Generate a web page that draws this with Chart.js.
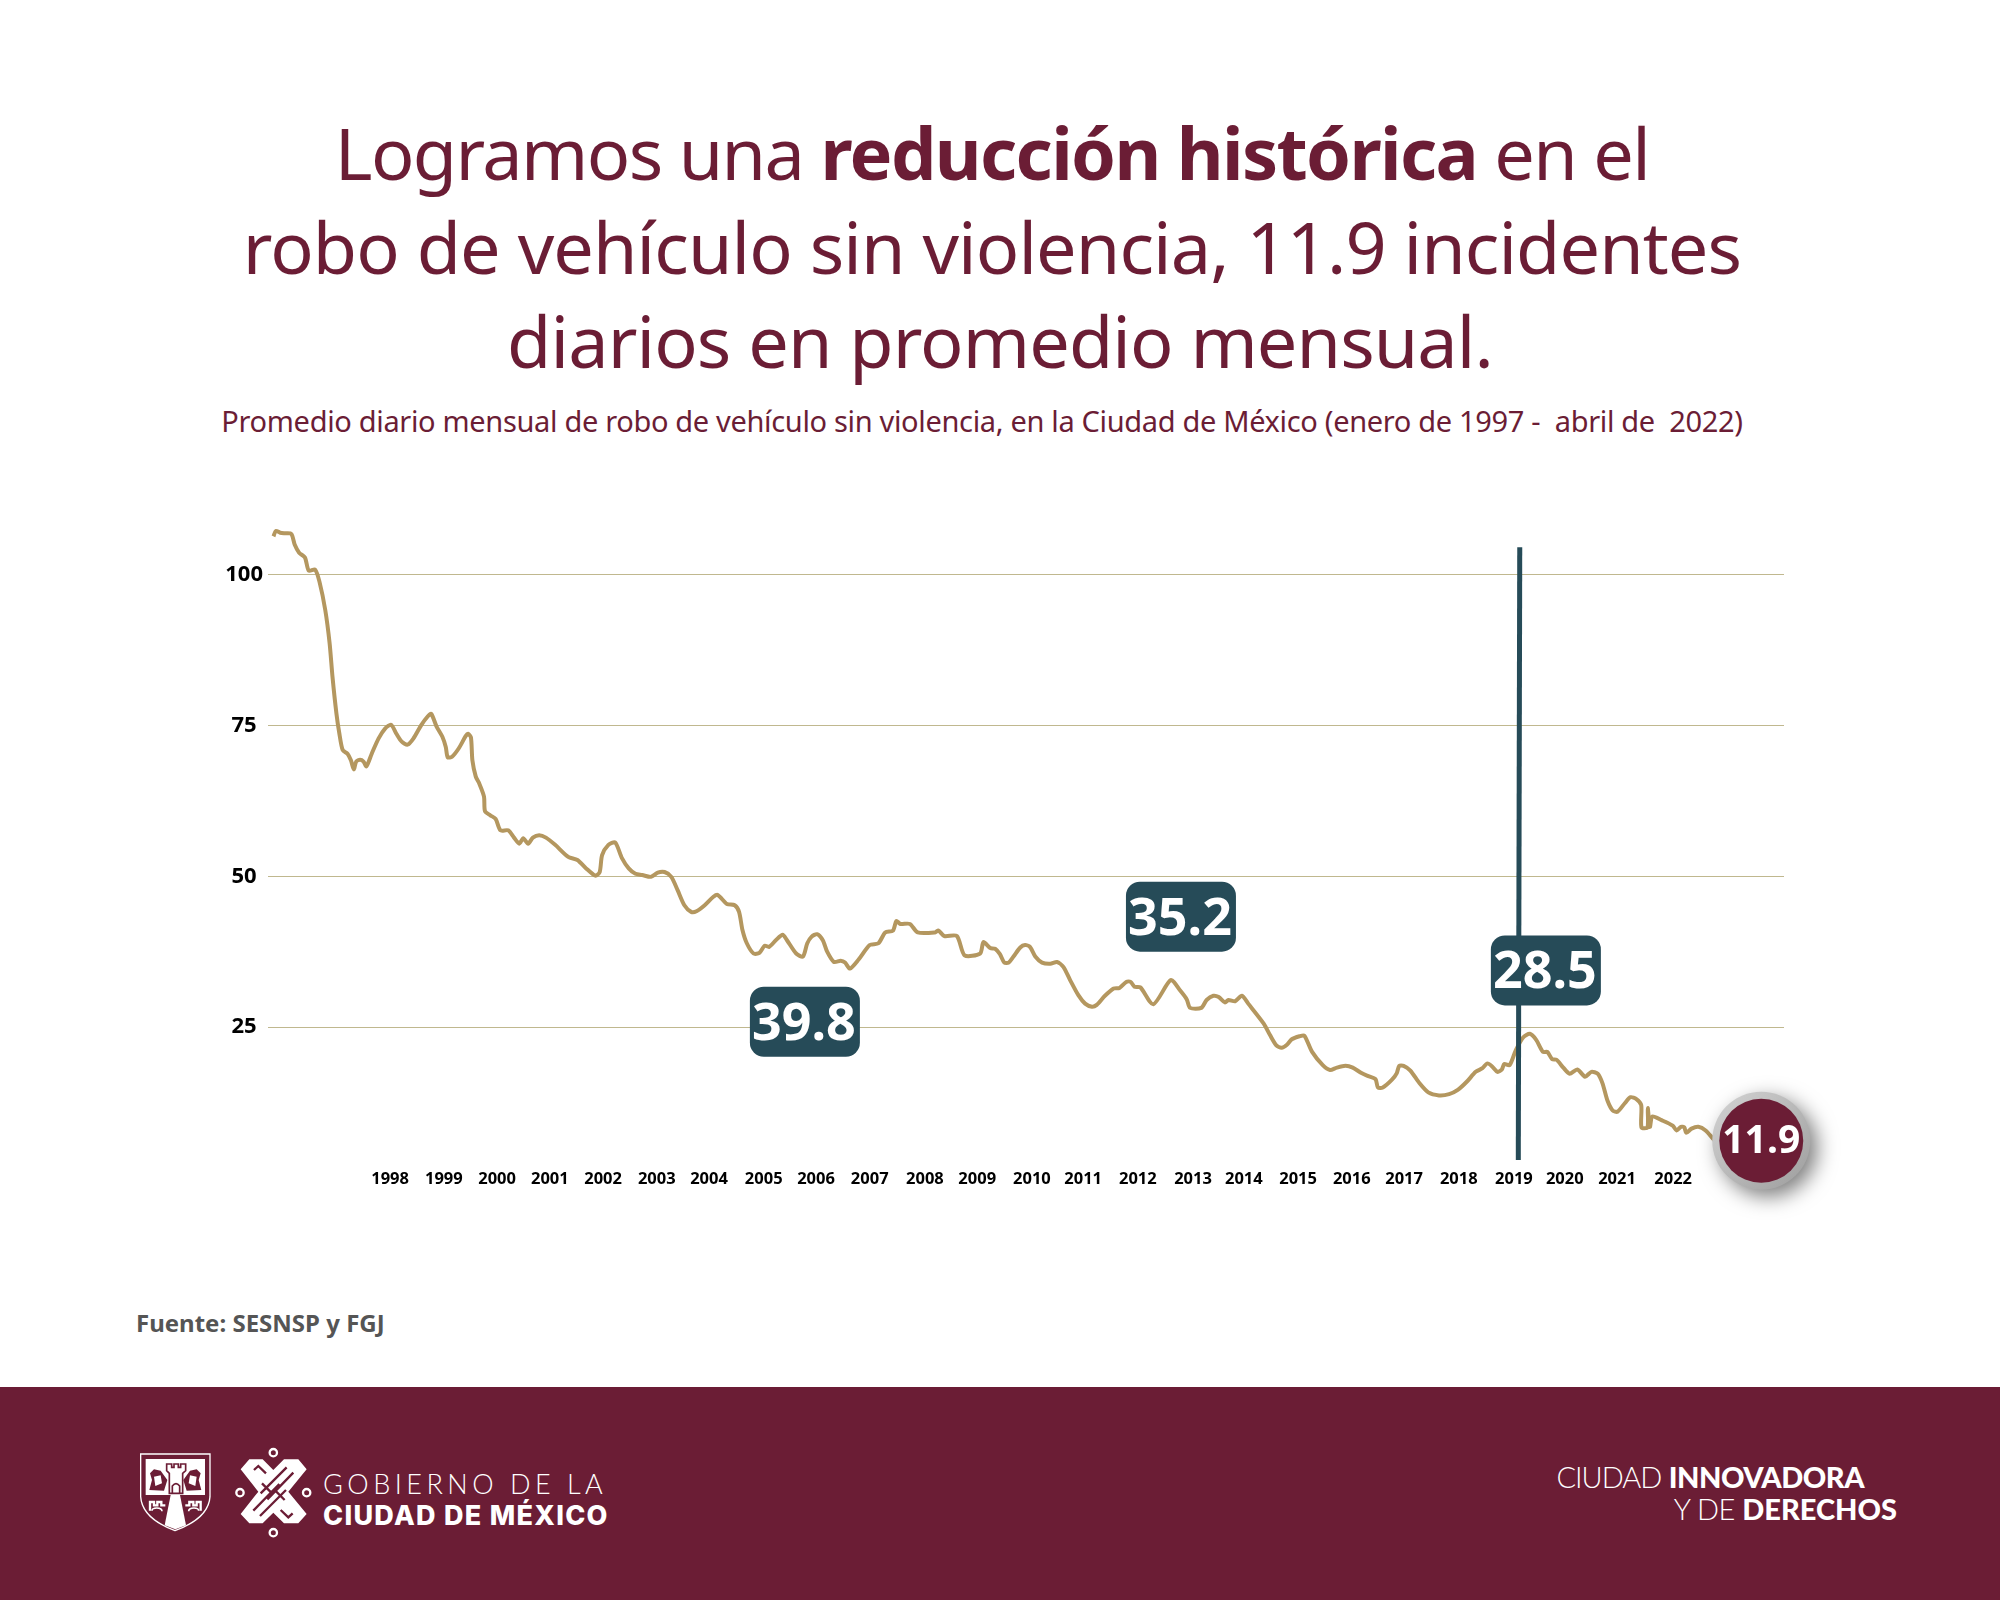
<!DOCTYPE html>
<html>
<head>
<meta charset="utf-8">
<title>Robo de vehículo sin violencia</title>
<script src="https://cdn.jsdelivr.net/npm/chart.js@4/dist/chart.umd.js"></script>
<style>
  body { margin: 0; background: #fff; width: 2000px; height: 1600px; position: relative; overflow: hidden; font-family: "Noto Sans", sans-serif; }
  canvas { position: absolute; left: 0; top: 0; }
  .line { position: absolute; left: 0; width: 2000px; text-align: center; color: #6b1d35; white-space: pre; }
  .title { font-size: 72px; font-weight: 400; line-height: 95px; height: 95px; }
  .title b { font-weight: 700; letter-spacing: -1.6px; }
  #sub { top: 400px; font-size: 29px; line-height: 42px; letter-spacing: -0.33px; left: -18px; }
  #fuente { position: absolute; left: 136px; top: 1306px; font-size: 24px; font-weight: 700; color: #555; }
  #band { position: absolute; left: 0; top: 1387px; width: 2000px; height: 213px; background: #6b1d35; }
  .foot { position: absolute; color: #fff; white-space: nowrap; }
</style>
</head>
<body>
<div id="band"></div>
<div class="line title" style="top:105px;left:-8px;letter-spacing:-1.6px">Logramos una <b>reducción histórica</b> en el</div>
<div class="line title" style="top:199px;left:-8px;letter-spacing:-0.9px">robo de vehículo sin violencia, 11.9 incidentes</div>
<div class="line title" style="top:293px;left:0;letter-spacing:-0.9px">diarios en promedio mensual.</div>
<div class="line" id="sub">Promedio diario mensual de robo de vehículo sin violencia, en la Ciudad de México (enero de 1997 -  abril de  2022)</div>
<div id="fuente">Fuente: SESNSP y FGJ</div>

<svg style="position:absolute;left:0;top:0" width="2000" height="1600" fill="none" stroke="#fff">
  <g transform="translate(130 1440) scale(0.3333)">
    <!-- escudo -->
    <path d="M32 42H240V170Q236 235 135 272Q36 235 32 170Z" stroke-width="4"/>
    <rect x="47" y="57" width="178" height="108" fill="#fff" stroke="none"/>
    <path d="M58 150L66 120L60 100L72 88L92 92L112 120L102 152Z M214 150L206 120L212 100L200 88L180 92L160 120L170 152Z" fill="#6b1d35" stroke="none"/>
    <path d="M72 110L92 106L96 130L76 138Z M200 110L180 106L176 130L196 138Z" fill="#fff" stroke="none"/>
    <path d="M118 160V100L110 92V72H125V82H132V72H145V82H152V72H167V92L158 100V160Z" fill="#fff" stroke="#6b1d35" stroke-width="5"/>
    <path d="M127 160V138Q138 124 149 138V160" stroke="#6b1d35" stroke-width="5"/>
    <path d="M122 165H150L168 256L136 268L104 256Z" fill="#fff" stroke="none"/>
    <path d="M60 212V186H72V196H82V186H94V196H106M212 212V186H200V196H190V186H178V196H166" stroke-width="7"/>
    <path d="M66 212Q66 204 80 204Q96 204 96 214M206 212Q206 204 192 204Q176 204 176 214" stroke-width="5"/>
    <!-- simbolo -->
    <circle cx="430" cy="38" r="11" stroke-width="7"/>
    <circle cx="330" cy="158" r="11" stroke-width="7"/>
    <circle cx="530" cy="158" r="11" stroke-width="7"/>
    <circle cx="430" cy="278" r="11" stroke-width="7"/>
    <path d="M358 58H398L430 90L462 58H505L530 88L475 155L530 222L505 250H462L430 218L398 250H358L332 222L385 155L332 88Z" fill="#fff" stroke="none"/>
    <path d="M372 90L385 78L408 100 M470 82L392 160 M490 98L412 178 M488 220L475 232L452 210 M390 228L468 150 M370 212L448 132 M396 130L430 164 M464 180L430 146" stroke="#6b1d35" stroke-width="7"/>
  </g>
</svg>
<div class="foot" style="left:323px;top:1467px;font:300 27px Lato;letter-spacing:4.500px">GOBIERNO DE LA</div>
<div class="foot" style="left:323px;top:1499px;font:800 27px Inter;letter-spacing:1.300px">CIUDAD DE MÉXICO</div>
<div class="foot" style="right:136px;top:1459px;font:400 29px Lato"><span style="font-weight:300;letter-spacing:-1px">CIUDAD</span> <span style="font-weight:900;letter-spacing:-0.5px">INNOVADORA</span></div>
<div class="foot" style="right:103px;top:1491px;font:400 29px Lato"><span style="font-weight:300;letter-spacing:-0.5px">Y DE</span> <span style="font-weight:900">DERECHOS</span></div>

<canvas id="chart" width="2000" height="1600"></canvas>

<script>
// months since January 1997
const seriesMonths = [
  0.1,0.6,1.5,2.5,3.8,4.5,5.4,6.6,7.4,8.7,9.6,10.8,11.7,12.3,13.1,13.7,14.4,15.4,16.1,16.7,17.2,18,18.7,19.3,
  20.4,21.8,23.2,24.4,25.5,26.6,27.8,29,30.6,32,32.7,33.8,35,35.7,36.1,37,38.4,39.8,40.3,40.9,41.2,41.9,42.6,43.6,43.8,
  44.9,46,47,48.6,49.8,50.9,51.7,52.7,53.7,55,56.4,58.3,61,62.9,64.7,66.6,67.5,68,69.3,70.7,72.1,73.5,74.9,76.3,78.1,
  79.5,80.9,82.3,83.6,85,86.4,87.5,89.2,91,91.9,93.8,95.4,96.3,97,97.9,99.3,100.5,101.6,102.5,103.9,105.3,106.2,108.1,
  109.5,110.4,111.3,112.4,113.6,114.5,115.9,117.3,118.2,119.2,121,123.3,125.1,126.5,128.1,128.8,129.6,131.6,133.2,136.8,
  137.5,138.7,141.3,142.9,146.1,146.8,148.2,149.2,150.2,151.1,152,153,154.4,155.4,156.4,157.5,158.9,160.6,162,163.3,
  164.7,166.4,167.8,169.2,170.2,171.9,173.7,174.9,176.3,177.2,178,179.2,181.9,185.5,187.4,188.8,189.5,191.8,192.9,194.3,
  195.4,196.7,197.4,198.8,200.2,201.5,204.7,206,207.3,208.4,209.5,210.5,212.1,213.1,214.7,216.9,218.4,219.8,221.6,223.1,
  224.9,226.3,227.8,228.3,229.3,231.2,232.2,232.7,233.6,235,236.9,238.7,240.9,243,244.8,246.7,248.5,249.9,250.9,251.9,
  253,253.9,254.4,255.5,256.8,258.3,259.7,261,262.4,263.3,264.3,265.2,266.6,267.9,269.5,271.1,272.4,273.7,274.7,275.7,
  276.8,277.8,279.3,280.5,281.7,282.7,282.75,284,284.05,284.5,285,286.9,289.2,290,290.9,291.6,292,293.1,294.5,296,297.8,300,303
];
// promedio diario mensual
const seriesValues = [
  106.3,107.2,106.9,106.8,106.7,104.9,103.6,102.8,100.6,100.8,98.8,94.1,88.6,83,77,73.7,70.9,70.3,69.2,67.7,69,69.3,69,68.2,
  70.3,72.8,74.5,75.1,73.6,72.3,71.8,72.8,75,76.5,76.9,74.8,73.1,71.4,69.7,69.8,71.2,73.2,73.6,73,69.2,66.5,65.4,63.2,60.8,
  60.1,59.5,57.6,57.6,56.4,55.4,56.3,55.4,56.4,56.8,56.4,55.2,53.2,52.7,51.3,50.1,50.7,53.5,55.2,55.6,53,51.3,50.4,50.2,49.9,
  50.6,50.7,49.9,47.7,45.2,44.1,44.2,45.2,46.6,46.9,45.4,45.2,44.1,41.1,38.9,37.2,37.3,38.5,38.3,39.4,40.3,39.4,37.2,
  36.7,38.9,40,40.4,39.4,37.5,35.8,36,35.7,34.7,36.2,38.6,38.9,40.7,41,42.6,42.1,42.1,40.7,40.7,
  41,40.1,40.1,36.9,37.2,39.1,38.1,38,37.1,35.7,35.7,36.7,38.2,38.6,38.3,36.7,35.7,35.5,35.8,35,
  32.8,30.3,28.9,28.4,28.7,30.2,31.4,31.5,32.5,32.5,31.7,31.6,28.8,32.8,31.1,29.6,28.2,28.2,29.5,30.2,
  30,29.1,29.5,29.3,30.2,28.9,25.6,23.7,22,21.6,22.1,23,23.5,23.6,20.9,18.7,17.9,18.3,18.6,18.3,
  17.4,16.9,16.4,15,15,16.3,17.4,18.6,18.6,17.8,15.7,14.2,13.7,13.9,14.6,16,17.6,18.2,19,18.5,
  17.6,18,18.9,18.7,21.2,23.3,23.9,22.9,20.9,20.9,19.7,19.6,18.3,17.3,18,16.8,17.6,17.3,15.7,12.9,
  11.2,11,12.4,13.4,13.1,12.1,8.4,8.4,11.6,8.5,10.2,9.6,8.7,7.9,8.5,8.4,7.5,8.2,8.5,7.9,6.3,4.8,3.6
];

const yearLabels = ['1998','1999','2000','2001','2002','2003','2004','2005','2006','2007','2008','2009','2010','2011','2012','2013','2014','2015','2016','2017','2018','2019','2020','2021','2022'];
const yearTickMonths = [24.2,35.3,46.3,57.2,68.2,79.3,90.1,101.4,112.2,123.3,134.7,145.5,156.8,167.4,178.7,190.1,200.6,211.8,222.9,233.7,245,256.4,266.9,277.7,289.3];
const yTickValues = [25,50,75,100];

// marker line of 2019
const markerMonths = [257.6,257.3];
const markerValues = [104.5,3];

const badgeLabels = ['39.8','35.2','28.5'];
const badgeMonths = [109.9,187.6,263];
const badgeValues = [25.9,43.3,34.4];
const lastLabel = '11.9';
const lastMonth = 307.5;
const lastValue = 6.2;

const TEAL = '#264b58';
const WINE = '#6b1d35';

const badgePlugin = {
  id: 'badges',
  afterDatasetsDraw(chart) {
    const ctx = chart.ctx, x = chart.scales.x, y = chart.scales.y;
    ctx.save();
    ctx.textAlign = 'center';
    ctx.textBaseline = 'middle';
    badgeLabels.forEach((label, i) => {
      const cx = x.getPixelForValue(badgeMonths[i]);
      const cy = y.getPixelForValue(badgeValues[i]);
      ctx.fillStyle = TEAL;
      ctx.beginPath();
      ctx.roundRect(cx - 55, cy - 35, 110, 70, 14);
      ctx.fill();
      ctx.fillStyle = '#fff';
      ctx.font = '700 52px "Noto Sans"';
      ctx.fillText(label, cx - 1, cy + 3);
    });

    // circle at the last month
    const cx = x.getPixelForValue(lastMonth);
    const cy = y.getPixelForValue(lastValue);
    ctx.save();
    ctx.shadowColor = 'rgba(0,0,0,0.5)';
    ctx.shadowBlur = 20;
    ctx.shadowOffsetX = 7;
    ctx.shadowOffsetY = 7;
    const ring = ctx.createLinearGradient(cx - 40, cy - 40, cx + 40, cy + 40);
    ring.addColorStop(0, '#cfcfcf');
    ring.addColorStop(1, '#a2a2a2');
    ctx.fillStyle = ring;
    ctx.beginPath();
    ctx.arc(cx, cy, 49, 0, Math.PI * 2);
    ctx.fill();
    ctx.restore();
    ctx.fillStyle = WINE;
    ctx.beginPath();
    ctx.arc(cx, cy, 42, 0, Math.PI * 2);
    ctx.fill();
    ctx.fillStyle = '#fff';
    ctx.font = '700 39px "Noto Sans"';
    ctx.fillText(lastLabel, cx, cy + 1);
    ctx.restore();
  }
};

new Chart(document.getElementById('chart'), {
  type: 'scatter',
  data: {
    datasets: [
      {
        data: seriesMonths.map((m, i) => ({ x: m, y: seriesValues[i] })),
        showLine: true,
        borderColor: '#b4975f',
        borderWidth: 4,
        pointRadius: 0,
        tension: 0.25,
        order: 2
      },
      {
        data: markerMonths.map((m, i) => ({ x: m, y: markerValues[i] })),
        showLine: true,
        borderColor: TEAL,
        borderWidth: 5,
        pointRadius: 0,
        order: 1
      }
    ]
  },
  options: {
    responsive: false,
    animation: false,
    layout: { padding: { left: 200, right: 216, top: 514, bottom: 390 } },
    plugins: { legend: { display: false }, tooltip: { enabled: false } },
    scales: {
      x: {
        type: 'linear',
        min: -1.03,
        max: 312.2,
        grid: { display: false },
        border: { display: false },
        afterBuildTicks: (axis) => { axis.ticks = yearTickMonths.map((v) => ({ value: v })); },
        afterFit: (axis) => { axis.height = 50; },
        ticks: {
          autoSkip: false,
          maxRotation: 0,
          padding: 1,
          color: '#000',
          font: { family: '"Noto Sans"', size: 16.5, weight: '700' },
          callback: (value, index) => yearLabels[index]
        }
      },
      y: {
        min: 3,
        max: 110,
        grid: { color: '#c0b88f', lineWidth: 1, drawTicks: false },
        border: { display: false },
        afterBuildTicks: (axis) => { axis.ticks = yTickValues.map((v) => ({ value: v })); },
        afterFit: (axis) => { axis.width = 68; },
        ticks: {
          padding: 5,
          crossAlign: 'center',
          color: '#000',
          font: { family: '"Noto Sans"', size: 22, weight: '700' }
        }
      }
    }
  },
  plugins: [badgePlugin]
});
</script>
</body>
</html>
